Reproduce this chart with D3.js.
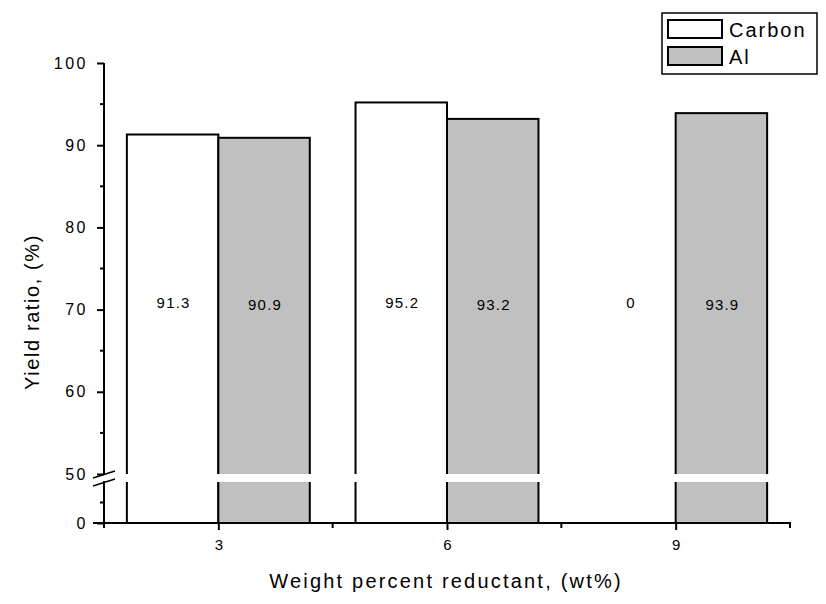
<!DOCTYPE html>
<html>
<head>
<meta charset="utf-8">
<script src="https://cdn.jsdelivr.net/npm/d3@7"></script>
<style>
  body { margin: 0; background: #fff; }
  text { font-family: "Liberation Sans", Arial, sans-serif; fill: #000; }
</style>
</head>
<body>
<div id="chart"></div>
<script>
var svgWidth = 826;
var svgHeight = 604;

var weights = [3, 6, 9];
var seriesNames = ["Carbon", "Al"];
var carbon = [91.3, 95.2, 0];
var al = [90.9, 93.2, 93.9];
var upperTicks = [50, 60, 70, 80, 90, 100];
var lowerTicks = [0];

var svg = d3.select("#chart")
  .append("svg")
  .attr("width", svgWidth)
  .attr("height", svgHeight);

// x axis scale (linear, weight %)
var xScale = d3.scaleLinear()
  .domain([1.5, 10.5])
  .range([104, 790]);

// broken y axis: upper segment 50-100, lower 0-50
var yUpper = d3.scaleLinear().domain([50, 100]).range([474, 63]);
var yLower = d3.scaleLinear().domain([0, 50]).range([523, 482]);

var barW = 1.2; // in x units
var fills = ["#ffffff", "#c0c0c0"];

function yVal(v) { return v >= 50 ? yUpper(v) : yLower(v); }

var rows = weights.map(function(w, i) {
  return [
    { w: w, v: carbon[i], s: 0, x0: w - barW },
    { w: w, v: al[i], s: 1, x0: w }
  ];
}).flat();

var bars = svg.append("g");
bars.selectAll("rect")
  .data(rows.filter(d => d.v > 0))
  .enter()
  .append("rect")
  .attr("x", d => xScale(d.x0))
  .attr("y", d => yVal(d.v))
  .attr("width", d => xScale(d.x0 + barW) - xScale(d.x0))
  .attr("height", d => yLower(0) - yVal(d.v))
  .attr("fill", d => fills[d.s])
  .attr("stroke", "#000")
  .attr("stroke-width", 2);

// white break band across bars
bars.selectAll("rect.brk")
  .data(rows.filter(d => d.v > 0))
  .enter()
  .append("rect")
  .attr("class", "brk")
  .attr("x", d => xScale(d.x0) - 2)
  .attr("y", 474)
  .attr("width", d => xScale(d.x0 + barW) - xScale(d.x0) + 4)
  .attr("height", 8)
  .attr("fill", "#fff");

// value labels
svg.append("g").selectAll("text")
  .data(rows)
  .enter()
  .append("text")
  .attr("x", d => xScale(d.x0 + barW / 2) + 1)
  .attr("y", d => d.s === 1 ? 310 : 308)
  .attr("text-anchor", "middle")
  .attr("font-size", "15px")
  .attr("letter-spacing", "1.2px")
  .text(d => d.v);

// x axis
var xAxis = d3.axisBottom(xScale)
  .tickValues(weights)
  .tickSize(7)
  .tickPadding(9)
  .tickFormat(d3.format("d"));
var gx = svg.append("g")
  .attr("transform", "translate(0,523)")
  .call(xAxis);
gx.select(".domain").remove();
gx.append("line").attr("x1", 93).attr("x2", 791).attr("stroke", "#000").attr("stroke-width", 2);
gx.selectAll(".tick line").attr("stroke-width", 2);
gx.selectAll("line.minor")
  .data([1.5, 4.5, 7.5, 10.5])
  .enter()
  .append("line")
  .attr("class", "minor")
  .attr("x1", d => xScale(d)).attr("x2", d => xScale(d))
  .attr("y1", 0).attr("y2", 5)
  .attr("stroke", "#000").attr("stroke-width", 2);

// y axis upper
var gyU = svg.append("g")
  .attr("transform", "translate(104,0)")
  .call(d3.axisLeft(yUpper).tickValues(upperTicks).tickSize(7).tickPadding(9));
gyU.select(".domain").remove();
gyU.append("line").attr("y1", 63).attr("y2", 475).attr("stroke", "#000").attr("stroke-width", 2);
gyU.selectAll(".tick line").attr("stroke-width", 2);
gyU.selectAll("line.minor")
  .data([55, 65, 75, 85, 95])
  .enter()
  .append("line")
  .attr("class", "minor")
  .attr("y1", d => yUpper(d)).attr("y2", d => yUpper(d))
  .attr("x1", 0).attr("x2", -4)
  .attr("stroke", "#000").attr("stroke-width", 2);

// y axis lower
var gyL = svg.append("g")
  .attr("transform", "translate(104,0)")
  .call(d3.axisLeft(yLower).tickValues(lowerTicks).tickSize(7).tickPadding(9));
gyL.select(".domain").remove();
gyL.append("line").attr("y1", 481).attr("y2", 524).attr("stroke", "#000").attr("stroke-width", 2);
gyL.selectAll(".tick line").attr("stroke-width", 2);
gyL.append("line")
  .attr("y1", yLower(25)).attr("y2", yLower(25))
  .attr("x1", 0).attr("x2", -4)
  .attr("stroke", "#000").attr("stroke-width", 2);

svg.selectAll("g .tick text")
  .attr("font-size", "16px")
  .attr("letter-spacing", "2.5px")
  .attr("font-family", "Liberation Sans, Arial, sans-serif")
  .attr("fill", "#000");
gx.selectAll(".tick text").attr("font-size", "15px").attr("letter-spacing", "0px");

// break marks on y axis
[0, 8].forEach(function(off) {
  svg.append("line")
    .attr("x1", 93).attr("y1", 478 + off)
    .attr("x2", 115).attr("y2", 471 + off)
    .attr("stroke", "#000").attr("stroke-width", 1.5);
});

// axis titles
svg.append("text")
  .attr("transform", "translate(39,312) rotate(-90)")
  .attr("text-anchor", "middle")
  .attr("font-size", "20px")
  .attr("letter-spacing", "1.6px")
  .text("Yield ratio, (%)");

svg.append("text")
  .attr("x", 446)
  .attr("y", 588)
  .attr("text-anchor", "middle")
  .attr("font-size", "20px")
  .attr("letter-spacing", "2.2px")
  .text("Weight percent reductant, (wt%)");

// legend
var legend = svg.append("g");
legend.append("rect")
  .attr("x", 662).attr("y", 13).attr("width", 155).attr("height", 61)
  .attr("fill", "#fff").attr("stroke", "#000").attr("stroke-width", 1.5);
seriesNames.forEach(function(name, i) {
  legend.append("rect")
    .attr("x", 668).attr("y", 20 + i * 27).attr("width", 54).attr("height", 18)
    .attr("fill", fills[i]).attr("stroke", "#000").attr("stroke-width", 2);
  legend.append("text")
    .attr("x", 729).attr("y", 37 + i * 27)
    .attr("font-size", "20px")
    .attr("letter-spacing", "2px")
    .text(name);
});
</script>
</body>
</html>
